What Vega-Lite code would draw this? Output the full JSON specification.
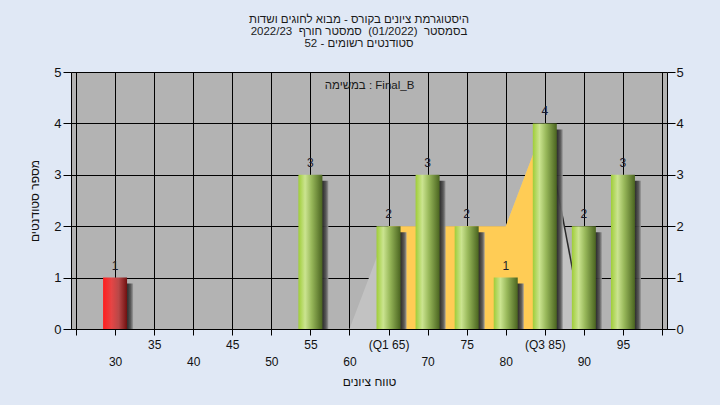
{
  "$schema": "https://vega.github.io/schema/vega-lite/v6.json",
  "width": 596,
  "height": 257,
  "autosize": {"type": "none"},
  "padding": {"left": 71, "top": 72, "right": 53, "bottom": 76},
  "background": "#e0e8f5",
  "config": {"font": "Liberation Sans", "view": {"fill": "#b3b3b3", "stroke": null}},
  "title": {
    "text": ["היסטוגרמת ציונים בקורס - מבוא לחוגים ושדות", "בסמסטר\u00a0 (01/2022)\u00a0 סמסטר חורף\u00a0 2022/23", "סטודנטים רשומים - 52"],
    "fontSize": 11.5,
    "fontWeight": "normal",
    "color": "#1a1a1a",
    "lineHeight": 12,
    "anchor": "middle",
    "offset": 17,
    "dx": -10
  },
  "datasets": {
    "bars": [
      {"score": 30, "count": 1, "grp": "fail"},
      {"score": 55, "count": 3, "grp": "pass"},
      {"score": 65, "count": 2, "grp": "pass"},
      {"score": 70, "count": 3, "grp": "pass"},
      {"score": 75, "count": 2, "grp": "pass"},
      {"score": 80, "count": 1, "grp": "pass"},
      {"score": 85, "count": 4, "grp": "pass"},
      {"score": 90, "count": 2, "grp": "pass"},
      {"score": 95, "count": 3, "grp": "pass"}
    ],
    "poly": [
      {"score": 60, "v": 0},
      {"score": 65, "v": 2},
      {"score": 70, "v": 2},
      {"score": 75, "v": 2},
      {"score": 80, "v": 2},
      {"score": 85, "v": 4},
      {"score": 90, "v": 0}
    ]
  },
  "layer": [
    {
      "data": {"name": "poly"},
      "mark": {"type": "area", "color": "#c2c2c2", "interpolate": "linear"},
      "encoding": {
        "x": {
          "field": "score", "type": "quantitative",
          "scale": {"domain": [25, 100], "nice": false, "zero": false},
          "axis": {
            "orient": "bottom",
            "values": [25, 30, 35, 40, 45, 50, 55, 60, 65, 70, 75, 80, 85, 90, 95, 100],
            "grid": true, "gridColor": "#000000", "gridOpacity": 1, "gridWidth": 1,
            "domainColor": "#000000", "domainWidth": 1,
            "tickColor": "#000000", "tickSize": 6,
            "labelFontSize": 12, "labelColor": "#111111", "labelPadding": 4,
            "labelLineHeight": 17, "labelOverlap": false, "labelFlush": false,
            "labelExpr": "datum.value == 25 || datum.value == 100 ? '' : datum.value == 65 ? '(Q1 65)' : datum.value == 85 ? '(Q3 85)' : datum.value % 10 == 0 ? ['', datum.label] : datum.label",
            "title": "טווח ציונים",
            "titleFontSize": 12, "titleFontWeight": "normal", "titleColor": "#111111",
            "titleY": 52, "titleBaseline": "middle"
          }
        },
        "y": {
          "field": "v", "type": "quantitative",
          "scale": {"domain": [0, 5], "nice": false},
          "axis": {
            "orient": "left",
            "values": [0, 1, 2, 3, 4, 5],
            "grid": true, "gridColor": "#000000", "gridOpacity": 1, "gridWidth": 1,
            "domainColor": "#000000", "tickColor": "#000000", "tickSize": 8,
            "labelFontSize": 13, "labelColor": "#111111", "labelPadding": 2,
            "title": "מספר סטודנטים",
            "titleFontSize": 12, "titleFontWeight": "normal", "titleColor": "#111111",
            "titleX": -37, "titleY": 128.5, "titleAngle": 270,
            "titleAlign": "center", "titleBaseline": "middle"
          }
        }
      }
    },
    {
      "data": {"name": "poly"},
      "transform": [{"filter": "datum.score >= 65 && datum.score <= 85"}],
      "mark": {"type": "area", "color": "#ffcc55", "interpolate": "linear"},
      "encoding": {
        "x": {
          "field": "score", "type": "quantitative",
          "scale": {"domain": [25, 100], "nice": false, "zero": false},
          "axis": {
            "orient": "top", "domain": false, "ticks": false, "labels": false, "grid": false,
            "title": "במשימה : Final_B",
            "titleFontSize": 11.5, "titleFontWeight": "normal", "titleColor": "#1a1a1a",
            "titleY": 13, "titleBaseline": "middle"
          }
        },
        "y": {
          "field": "v", "type": "quantitative",
          "scale": {"domain": [0, 5], "nice": false},
          "axis": {
            "orient": "right", "values": [0, 1, 2, 3, 4, 5], "grid": false,
            "domainColor": "#000000", "tickColor": "#000000", "tickSize": 8,
            "labelFontSize": 13, "labelColor": "#111111", "labelPadding": 1,
            "title": null
          }
        }
      }
    },
    {
      "data": {"name": "poly"},
      "transform": [{"filter": "datum.score >= 85"}],
      "mark": {"type": "line", "color": "#2a2a2a", "strokeWidth": 1.5},
      "encoding": {
        "x": {"field": "score", "type": "quantitative", "scale": {"domain": [25, 100], "nice": false, "zero": false}, "axis": null},
        "y": {"field": "v", "type": "quantitative", "scale": {"domain": [0, 5], "nice": false}, "axis": null}
      }
    },
    {
      "data": {"name": "bars"},
      "mark": {
        "type": "bar", "size": 24, "xOffset": 6, "yOffset": 6, "clip": true, "opacity": 0.95,
        "fill": {"gradient": "linear", "x1": 0, "x2": 1, "y1": 0, "y2": 0,
          "stops": [{"offset": 0, "color": "#202020"}, {"offset": 0.78, "color": "#2e2e2e"}, {"offset": 0.9, "color": "#555555"}, {"offset": 1, "color": "#999999"}]}
      },
      "encoding": {
        "x": {"field": "score", "type": "quantitative", "scale": {"domain": [25, 100], "nice": false, "zero": false}, "axis": null},
        "y": {"field": "count", "type": "quantitative", "scale": {"domain": [0, 5], "nice": false}, "axis": null}
      }
    },
    {
      "data": {"name": "bars"},
      "transform": [{"filter": "datum.grp == 'pass'"}],
      "mark": {
        "type": "bar", "size": 24,
        "fill": {"gradient": "linear", "x1": 0, "x2": 1, "y1": 0, "y2": 0,
          "stops": [{"offset": 0, "color": "#9fcd38"}, {"offset": 0.28, "color": "#cbe490"}, {"offset": 0.55, "color": "#98b85a"}, {"offset": 1, "color": "#4a6420"}]}
      },
      "encoding": {
        "x": {"field": "score", "type": "quantitative", "scale": {"domain": [25, 100], "nice": false, "zero": false}, "axis": null},
        "y": {"field": "count", "type": "quantitative", "scale": {"domain": [0, 5], "nice": false}, "axis": null}
      }
    },
    {
      "data": {"name": "bars"},
      "transform": [{"filter": "datum.grp == 'fail'"}],
      "mark": {
        "type": "bar", "size": 24,
        "fill": {"gradient": "linear", "x1": 0, "x2": 1, "y1": 0, "y2": 0,
          "stops": [{"offset": 0, "color": "#ff1e1e"}, {"offset": 0.35, "color": "#e54545"}, {"offset": 0.65, "color": "#b84848"}, {"offset": 1, "color": "#701010"}]}
      },
      "encoding": {
        "x": {"field": "score", "type": "quantitative", "scale": {"domain": [25, 100], "nice": false, "zero": false}, "axis": null},
        "y": {"field": "count", "type": "quantitative", "scale": {"domain": [0, 5], "nice": false}, "axis": null}
      }
    },
    {
      "data": {"name": "bars"},
      "mark": {"type": "text", "dy": -12, "fontSize": 12, "color": "#1a1a2a", "baseline": "middle"},
      "encoding": {
        "x": {"field": "score", "type": "quantitative", "scale": {"domain": [25, 100], "nice": false, "zero": false}, "axis": null},
        "y": {"field": "count", "type": "quantitative", "scale": {"domain": [0, 5], "nice": false}, "axis": null},
        "text": {"field": "count", "type": "quantitative"}
      }
    }
  ],
  "resolve": {"axis": {"x": "independent", "y": "independent"}}
}
